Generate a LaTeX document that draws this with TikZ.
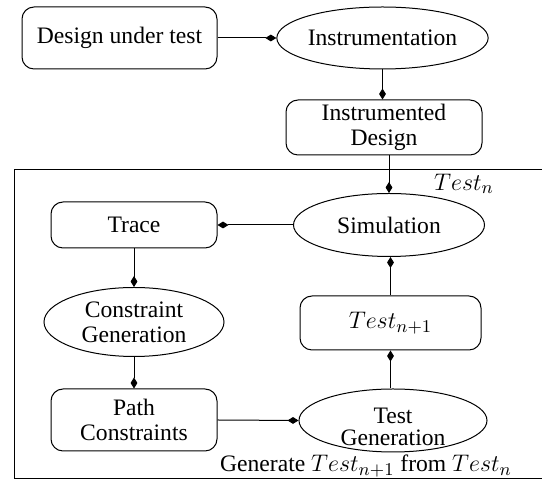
\documentclass[tikz,border=0pt]{standalone}
\usepackage{fontspec}
\setmainfont{Liberation Serif}
\usetikzlibrary{shapes.geometric,arrows.meta}

\newcommand{\testmath}[1]{{\fontsize{12.7}{13}\selectfont$#1$}}

\begin{document}
\begin{tikzpicture}[x=0.5pt,y=-0.5pt,
    line width=0.5pt,
    every node/.style={font=\fontsize{11.8}{12.5}\selectfont},
    kasten/.style={draw,rounded corners=6pt,inner sep=0pt,align=center},
    oval/.style={draw,ellipse,inner sep=0pt,align=center},
    pfeil/.style={-{Kite[length=5.5pt,width=3.4pt,inset=2.75pt]}}]
  \useasboundingbox (0,0) rectangle (542,485);

  % Rahmen
  \draw (14,170) rectangle (548,479);

  % Obere Knoten
  \node[kasten,minimum width=97.5pt,minimum height=31pt] (dut) at (119.5,38) {Design under test};
  \node[oval,minimum width=98.5pt,minimum height=31pt] (instr) at (382.5,38) {Instrumentation};
  \node[kasten,minimum width=98pt,minimum height=27.5pt] (idesign) at (384,127.5) {Instrumented\\ Design};

  % Schleife
  \node[oval,minimum width=95.5pt,minimum height=31.5pt] (sim) at (389,225) {Simulation};
  \node[kasten,minimum width=83pt,minimum height=23pt] (trace) at (134,225) {Trace};
  \node[oval,minimum width=90pt,minimum height=34.5pt] (cgen) at (134,322) {Constraint\\ Generation};
  \node[kasten,minimum width=83pt,minimum height=31pt] (pathc) at (134,420) {Path\\ Constraints};
  \node[kasten,minimum width=90.5pt,minimum height=27pt] (testn) at (390.5,323) {\testmath{Test_{n+1}}};
  \node[oval,minimum width=94pt,minimum height=31.5pt] (tgen) at (393,420.5)
    {\raisebox{-3pt}[\height][\depth]{\shortstack{Test\\ Generation}}};

  % Beschriftungen
  \node (lbltop) at (464,184) {\testmath{Test_n}};
  \node (lblbot) at (366,466) {Generate \testmath{Test_{n+1}} from \testmath{Test_n}};

  % Pfeile
  \draw[pfeil] (dut.east) -- (instr.west);
  \draw[pfeil] (instr.south) -- (instr.south |- idesign.north);
  \draw[pfeil] (sim.north |- idesign.south) -- (sim.north);
  \draw[pfeil] (sim.west) -- (trace.east);
  \draw[pfeil] (trace.south) -- (cgen.north);
  \draw[pfeil] (cgen.south) -- (pathc.north);
  \draw[pfeil] (pathc.east) -- (tgen.west);
  \draw[pfeil] (testn.south |- tgen.north) -- (testn.south);
  \draw[pfeil] (testn.north) -- (testn.north |- sim.south);
\end{tikzpicture}
\end{document}
